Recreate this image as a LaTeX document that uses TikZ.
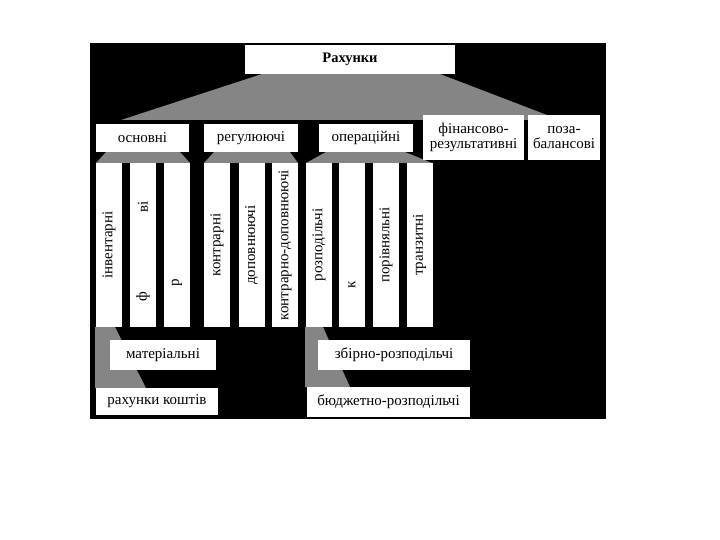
\documentclass[tikz,border=0pt]{standalone}
\usepackage{fontspec}
\setmainfont{Liberation Serif}
\tikzset{
	cell/.style={fill=white, inner sep=0pt, align=center, font=\fontsize{15}{15}\selectfont},
	strip/.style={fill=white, inner sep=0pt, rotate=90, minimum width=164pt, minimum height=26pt, font=\fontsize{15}{15}\selectfont},
	bit/.style={inner sep=0pt, rotate=90, font=\fontsize{15}{15}\selectfont},
	shade/.style={fill=black!48}
}
\begin{document}
\begin{tikzpicture}[x=1pt,y=-1pt,line join=round]
	\useasboundingbox (0,0) rectangle (720,540);
	\fill[white] (0,0) rectangle (720,540);
	\fill[black] (90,43) rectangle (606,419);
	\fill[shade] (262,74)--(440,74)--(560,120)--(121,120)--cycle;
	\fill[shade] (106,152)--(180,152)--(190,163)--(96,163)--cycle;
	\fill[shade] (214,152)--(290,152)--(298,163)--(204,163)--cycle;
	\fill[shade] (326,152)--(405,152)--(432,163)--(306,163)--cycle;
	\fill[shade] (95,327)--(115,327)--(146,388)--(95,388)--cycle;
	\fill[shade] (305,327)--(323,327)--(350,387)--(305,387)--cycle;
	\node[cell, minimum width=210pt, minimum height=29pt, font=\bfseries\fontsize{14.5}{15}\selectfont] (rah) at (350,59.5) {Рахунки};
	\node[cell, minimum width=93pt, minimum height=28pt] (osn) at (142.5,138) {основні};
	\node[cell, minimum width=94pt, minimum height=28pt] (reg) at (251,138) {регулюючі};
	\node[cell, minimum width=94pt, minimum height=28pt] (oper) at (366,138) {операційні};
	\node[cell, minimum width=101pt, minimum height=45pt] (fin) at (473.5,137.5) {фінансово-\\результативні};
	\node[cell, minimum width=72pt, minimum height=45pt] (poza) at (564,137.5) {поза-\\балансові};
	\node[strip] (inv) at (109,245) {інвентарні};
	\node[strip] (fond) at (143,245) {};
	\node[strip] (rozr) at (177,245) {};
	\node[strip] (kontr) at (217,245) {контрарні};
	\node[strip] (dop) at (251.5,245) {доповнюючі};
	\node[strip] (kdop) at (285,245) {контрарно-доповнюючі};
	\node[strip] (rozp) at (319,245) {розподільчі};
	\node[strip] (kalk) at (352,245) {};
	\node[strip] (por) at (386,245) {порівняльні};
	\node[strip] (tran) at (419.5,245) {транзитні};
	\node[bit] (fondA) at (143,207) {ві};
	\node[bit] (fondB) at (143,297) {ф};
	\node[bit] (rozrA) at (177,283) {р};
	\node[bit] (kalkA) at (352,285) {к};
	\node[cell, minimum width=106pt, minimum height=30pt] (mat) at (163,355) {матеріальні};
	\node[cell, minimum width=122pt, minimum height=27pt] (kosht) at (157,401.5) {рахунки коштів};
	\node[cell, minimum width=152pt, minimum height=30pt] (zbir) at (394,355) {збірно-розподільчі};
	\node[cell, minimum width=163pt, minimum height=30pt] (budg) at (388.5,402) {бюджетно-розподільчі};
\end{tikzpicture}
\end{document}
